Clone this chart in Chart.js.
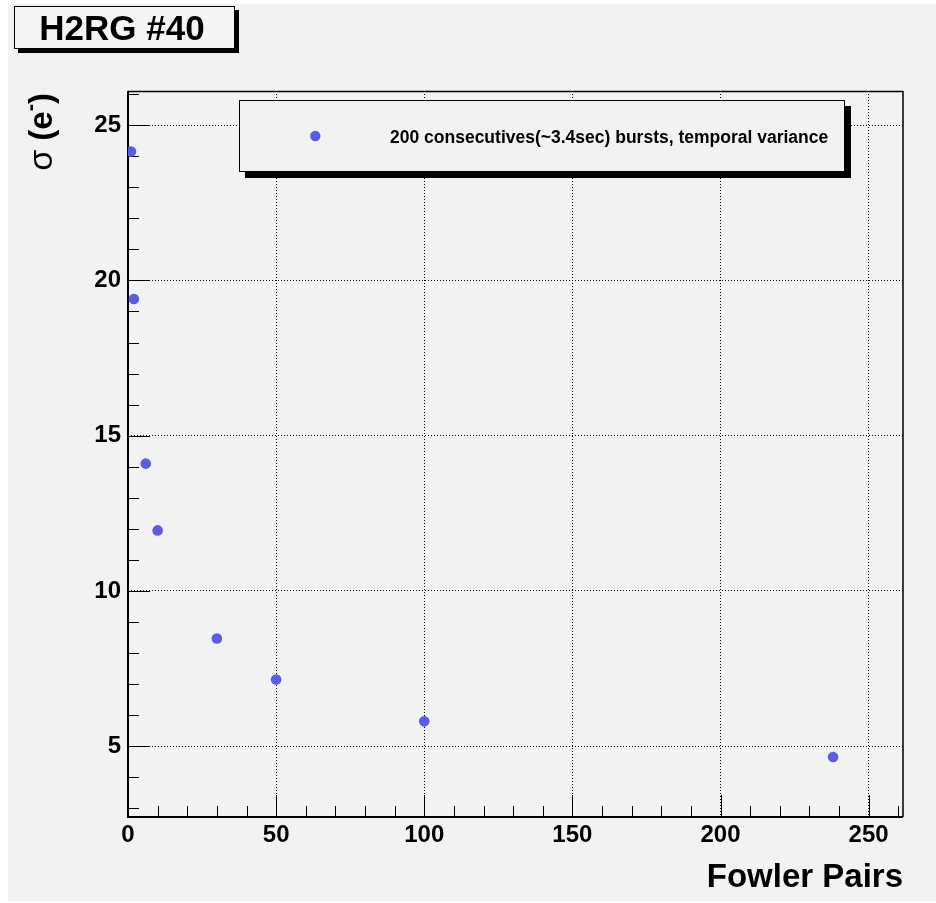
<!DOCTYPE html>
<html>
<head>
<meta charset="utf-8">
<script src="https://cdn.jsdelivr.net/npm/chart.js@4.4.0/dist/chart.umd.min.js"></script>
<style>
  html, body { margin: 0; padding: 0; background: #fff; }
  #wrap { width: 936px; height: 903px; }
</style>
</head>
<body>
<div id="wrap"><canvas id="chart" width="936" height="903"></canvas></div>
<script>
// data
const fowlerPairs = [1, 2, 6, 10, 30, 50, 100, 238];
const sigmaElectrons = [24.15, 19.4, 14.1, 11.95, 8.47, 7.15, 5.8, 4.65];
const xTicks = [0, 50, 100, 150, 200, 250];
const yTicks = [5, 10, 15, 20, 25];
const seriesLabel = '200 consecutives(~3.4sec) bursts, temporal variance';
const plotTitle = 'H2RG #40';
const xTitle = 'Fowler Pairs';

const FONT = '"Liberation Sans", Arial, Helvetica, sans-serif';
const markerColor = '#5b5be3';
const panelColor = '#f2f2f2';

// canvas background (white edge + grey pad)
const backgroundPlugin = {
    id: 'background',
    beforeDraw(chart) {
        const ctx = chart.ctx;
        ctx.save();
        ctx.fillStyle = '#ffffff';
        ctx.fillRect(0, 0, chart.width, chart.height);
        ctx.fillStyle = panelColor;
        ctx.fillRect(8, 4, chart.width - 8, chart.height - 5);
        ctx.restore();
    }
};

// ROOT-like frame with ticks drawn inside the axes
const framePlugin = {
    id: 'frame',
    beforeDatasetsDraw(chart) {
        const ctx = chart.ctx;
        const area = chart.chartArea;
        const xs = chart.scales.x;
        const ys = chart.scales.y;
        ctx.save();
        ctx.strokeStyle = '#000';
        ctx.lineWidth = 1;
        ctx.beginPath();
        for (let v = 0; v <= 260; v += 10) {
            const px = Math.round(xs.getPixelForValue(v)) + 0.5;
            const len = v % 50 === 0 ? 22 : 11;
            ctx.moveTo(px, area.bottom);
            ctx.lineTo(px, area.bottom - len);
        }
        for (let v = 3; v <= 26; v += 1) {
            const py = Math.round(ys.getPixelForValue(v)) + 0.5;
            const len = v % 5 === 0 ? 22 : 11;
            ctx.moveTo(area.left, py);
            ctx.lineTo(area.left + len, py);
        }
        ctx.stroke();

        // top and right edges
        ctx.beginPath();
        ctx.moveTo(area.left, area.top + 0.5);
        ctx.lineTo(area.right, area.top + 0.5);
        ctx.moveTo(area.right, area.top);
        ctx.lineTo(area.right, area.bottom);
        ctx.lineWidth = 1.5;
        ctx.stroke();

        // left and bottom axes
        ctx.lineWidth = 2;
        ctx.beginPath();
        ctx.moveTo(area.left, area.top);
        ctx.lineTo(area.left, area.bottom);
        ctx.lineTo(area.right, area.bottom);
        ctx.stroke();
        ctx.restore();
    }
};

// title box, legend and axis titles
const annotationPlugin = {
    id: 'annotations',
    afterDraw(chart) {
        const ctx = chart.ctx;
        ctx.save();

        // title box with shadow
        ctx.fillStyle = '#000';
        ctx.fillRect(18, 10, 221, 43);
        ctx.fillStyle = '#f4f4f4';
        ctx.fillRect(14, 6, 221, 43);
        ctx.strokeStyle = '#000';
        ctx.lineWidth = 1;
        ctx.strokeRect(14.5, 6.5, 220, 42);
        ctx.fillStyle = '#000';
        ctx.font = 'bold 35px ' + FONT;
        ctx.textAlign = 'center';
        ctx.textBaseline = 'alphabetic';
        ctx.fillText(plotTitle, 122, 39.5);

        // legend box with shadow
        ctx.fillStyle = '#000';
        ctx.fillRect(245, 106, 606, 72);
        ctx.fillStyle = panelColor;
        ctx.fillRect(239, 100, 606, 72);
        ctx.strokeRect(239.5, 100.5, 605, 71);
        const ds = chart.data.datasets[0];
        ctx.fillStyle = ds.backgroundColor;
        ctx.beginPath();
        ctx.arc(315.3, 136, 5.2, 0, Math.PI * 2);
        ctx.fill();
        ctx.fillStyle = '#000';
        ctx.font = 'bold 17.5px ' + FONT;
        ctx.textAlign = 'left';
        ctx.fillText(ds.label, 390, 143.3);

        // x title
        ctx.font = 'bold 33px ' + FONT;
        ctx.textAlign = 'right';
        ctx.fillText(xTitle, 903, 887);

        // y title: sigma (e^-)
        ctx.translate(52, 93);
        ctx.rotate(-Math.PI / 2);
        ctx.textAlign = 'left';
        const parts = [
            { t: 'σ', font: '34px ' + FONT, dy: 0 },
            { t: ' (e', font: 'bold 33px ' + FONT, dy: 0 },
            { t: '-', font: 'bold 22px ' + FONT, dy: -15 },
            { t: ')', font: 'bold 33px ' + FONT, dy: 0 }
        ];
        let total = 0;
        parts.forEach(p => { ctx.font = p.font; p.w = ctx.measureText(p.t).width; total += p.w; });
        let x = -total;
        parts.forEach(p => {
            ctx.font = p.font;
            ctx.fillText(p.t, x, p.dy);
            x += p.w;
        });
        ctx.restore();
    }
};

const ctx = document.getElementById('chart').getContext('2d');
new Chart(ctx, {
    type: 'scatter',
    data: {
        datasets: [{
            label: seriesLabel,
            data: fowlerPairs.map((x, i) => ({ x: x, y: sigmaElectrons[i] })),
            backgroundColor: markerColor,
            borderColor: markerColor,
            borderWidth: 0,
            pointRadius: 5.3,
            pointHoverRadius: 5.3
        }]
    },
    options: {
        responsive: false,
        animation: false,
        events: [],
        layout: { padding: { top: 91, right: 33, left: 0, bottom: 0 } },
        plugins: {
            legend: { display: false },
            tooltip: { enabled: false }
        },
        scales: {
            x: {
                type: 'linear',
                min: 0,
                max: 261.6,
                afterBuildTicks: s => { s.ticks = xTicks.map(v => ({ value: v })); },
                afterFit: s => { s.height = 86; },
                ticks: {
                    font: { family: FONT, size: 24, weight: 'bold' },
                    color: '#000',
                    padding: 4,
                    maxRotation: 0,
                    autoSkip: false
                },
                grid: { color: '#000', lineWidth: 1, drawTicks: false },
                border: { display: false, dash: [1, 2] }
            },
            y: {
                type: 'linear',
                min: 2.72,
                max: 26.1,
                afterBuildTicks: s => { s.ticks = yTicks.map(v => ({ value: v })); },
                afterFit: s => { s.width = 128; },
                ticks: {
                    font: { family: FONT, size: 24, weight: 'bold' },
                    color: '#000',
                    padding: 7,
                    autoSkip: false
                },
                grid: { color: '#000', lineWidth: 1, drawTicks: false },
                border: { display: false, dash: [1, 2] }
            }
        }
    },
    plugins: [backgroundPlugin, framePlugin, annotationPlugin]
});
</script>
</body>
</html>
